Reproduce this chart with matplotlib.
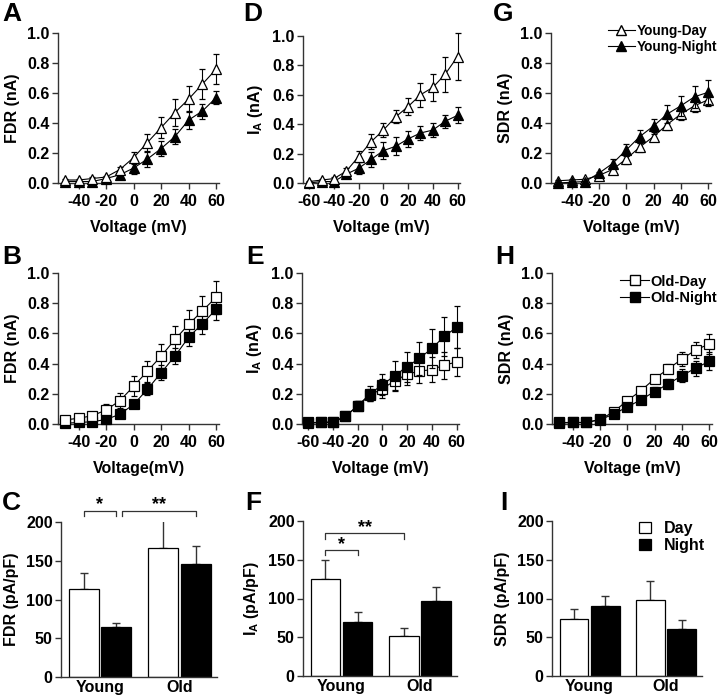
import numpy as np
import matplotlib
matplotlib.use('Agg')
import matplotlib.pyplot as plt
from matplotlib.lines import Line2D
from matplotlib.patches import Patch

plt.rcParams['font.family'] = ['Liberation Sans', 'DejaVu Sans']
plt.rcParams['font.weight'] = 'bold'
plt.rcParams['font.size'] = 10
plt.rcParams['axes.unicode_minus'] = False
plt.rcParams['mathtext.fontset'] = 'custom'
plt.rcParams['mathtext.bf'] = 'Liberation Sans:bold'
plt.rcParams['mathtext.rm'] = 'Liberation Sans:bold'
plt.rcParams['mathtext.default'] = 'bf'

# voltages
v_short = [-50, -40, -30, -20, -10, 0, 10, 20, 30, 40, 50, 60]
v_long = [-60, -50, -40, -30, -20, -10, 0, 10, 20, 30, 40, 50, 60]

# A: FDR young
fdr_yd = [0.02, 0.02, 0.03, 0.04, 0.09, 0.17, 0.27, 0.37, 0.47, 0.56, 0.66, 0.76]
fdr_yd_err = [0.01, 0.01, 0.01, 0.01, 0.02, 0.04, 0.055, 0.07, 0.09, 0.09, 0.10, 0.10]
fdr_yn = [0.01, 0.01, 0.01, 0.03, 0.055, 0.10, 0.16, 0.23, 0.31, 0.42, 0.48, 0.57]
fdr_yn_err = [0.005, 0.005, 0.005, 0.01, 0.02, 0.04, 0.05, 0.05, 0.05, 0.06, 0.05, 0.045]

# D: I_A young
ia_yd = [0.01, 0.02, 0.03, 0.08, 0.18, 0.28, 0.36, 0.45, 0.52, 0.60, 0.65, 0.74, 0.86]
ia_yd_err = [0.005, 0.005, 0.01, 0.02, 0.04, 0.05, 0.05, 0.045, 0.06, 0.08, 0.09, 0.12, 0.16]
ia_yn = [0.0, 0.01, 0.01, 0.06, 0.10, 0.16, 0.22, 0.25, 0.30, 0.34, 0.36, 0.42, 0.46]
ia_yn_err = [0.005, 0.005, 0.005, 0.01, 0.04, 0.05, 0.06, 0.06, 0.055, 0.05, 0.05, 0.045, 0.055]

# G: SDR young
sdr_yd = [0.015, 0.02, 0.025, 0.05, 0.09, 0.16, 0.24, 0.31, 0.39, 0.46, 0.515, 0.555]
sdr_yd_err = [0.005, 0.005, 0.005, 0.01, 0.02, 0.03, 0.03, 0.03, 0.035, 0.04, 0.04, 0.04]
sdr_yn = [0.0, 0.005, 0.01, 0.065, 0.13, 0.22, 0.31, 0.38, 0.46, 0.515, 0.575, 0.605]
sdr_yn_err = [0.005, 0.005, 0.005, 0.01, 0.03, 0.04, 0.045, 0.05, 0.06, 0.065, 0.075, 0.08]

# B: FDR old
fdr_od = [0.027, 0.038, 0.055, 0.093, 0.155, 0.25, 0.35, 0.45, 0.56, 0.66, 0.75, 0.84]
fdr_od_err = [0.01, 0.01, 0.01, 0.04, 0.05, 0.065, 0.07, 0.08, 0.09, 0.095, 0.10, 0.11]
fdr_on = [0.005, 0.01, 0.015, 0.03, 0.065, 0.13, 0.23, 0.34, 0.45, 0.575, 0.665, 0.76]
fdr_on_err = [0.005, 0.005, 0.005, 0.01, 0.01, 0.02, 0.04, 0.05, 0.055, 0.06, 0.07, 0.07]

# E: I_A old
ia_od = [0.005, 0.01, 0.01, 0.05, 0.12, 0.19, 0.235, 0.285, 0.33, 0.35, 0.36, 0.39, 0.41]
ia_od_err = [0.005, 0.005, 0.005, 0.01, 0.03, 0.04, 0.06, 0.06, 0.07, 0.08, 0.085, 0.09, 0.09]
ia_on = [0.01, 0.01, 0.015, 0.05, 0.12, 0.20, 0.26, 0.32, 0.38, 0.435, 0.50, 0.58, 0.64]
ia_on_err = [0.005, 0.005, 0.005, 0.01, 0.03, 0.05, 0.07, 0.10, 0.10, 0.11, 0.13, 0.13, 0.14]

# H: SDR old
sdr_od = [0.01, 0.01, 0.01, 0.03, 0.08, 0.155, 0.22, 0.30, 0.365, 0.43, 0.49, 0.53]
sdr_od_err = [0.005, 0.005, 0.005, 0.005, 0.01, 0.02, 0.02, 0.025, 0.03, 0.045, 0.055, 0.065]
sdr_on = [0.005, 0.01, 0.01, 0.028, 0.065, 0.113, 0.16, 0.215, 0.265, 0.32, 0.37, 0.415]
sdr_on_err = [0.005, 0.005, 0.005, 0.005, 0.01, 0.02, 0.025, 0.03, 0.035, 0.045, 0.05, 0.06]

# bar panels (pA/pF), order: Young, Old
groups = ['Young', 'Old']
fdr_day = [113, 166]
fdr_day_err = [21, 38]
fdr_night = [64, 146]
fdr_night_err = [6, 23]
ia_day = [125, 51]
ia_day_err = [25, 11.5]
ia_night = [70, 96.5]
ia_night_err = [12, 18]
sdr_day = [74, 98]
sdr_day_err = [12, 25]
sdr_night = [90, 61]
sdr_night_err = [13.5, 11]

W, H = 720, 697
fig = plt.figure(figsize=(W / 100, H / 100), dpi=100)

def px_axes(left, top, width, height):
    return fig.add_axes([left / W, 1 - (top + height) / H, width / W, height / H])

spine_col = '#333333'
TICK = 11.5
LAB = 11.5

def style(ax):
    for s in ['top', 'right']:
        ax.spines[s].set_visible(False)
    for s in ['left', 'bottom']:
        ax.spines[s].set_color(spine_col)
        ax.spines[s].set_linewidth(1.0)
    ax.tick_params(direction='out', length=4, width=1, color=spine_col, labelsize=TICK, pad=2)
    ax.tick_params(axis='x', pad=4)
    for lab in ax.get_xticklabels() + ax.get_yticklabels():
        lab.set_fontweight('bold')

def iv_panel(ax, v, day, day_err, night, night_err, marker, ylabel, xlabel, xlim, xticks, day_top):
    ms = 7.5 if marker == '^' else 6.5
    zd, zn = (4, 3) if day_top else (3, 4)
    ax.errorbar(v, day, yerr=day_err, fmt='-', marker=marker, ms=ms, mfc='white', mec='black',
                mew=0.9, color='black', lw=0.8, elinewidth=0.8, capsize=2.5, capthick=0.8,
                clip_on=False, zorder=zd)
    ax.errorbar(v, night, yerr=night_err, fmt='-', marker=marker, ms=ms, mfc='black', mec='black',
                mew=0.9, color='black', lw=0.8, elinewidth=0.8, capsize=2.5, capthick=0.8,
                clip_on=False, zorder=zn)
    ax.set_xlim(*xlim)
    ax.set_ylim(0, 1.0)
    ax.set_xticks(xticks)
    ax.set_yticks([0, 0.2, 0.4, 0.6, 0.8, 1.0])
    ax.set_yticklabels(['0.0', '0.2', '0.4', '0.6', '0.8', '1.0'])
    ax.set_xlabel(xlabel, fontsize=LAB, fontweight='bold', labelpad=8)
    ax.set_ylabel(ylabel, fontsize=LAB, fontweight='bold', labelpad=5)
    style(ax)

def bar_panel(ax, day, day_err, night, night_err, ylabel):
    xd = np.array([0, 2.45])
    xn = xd + 1
    ax.bar(xd, day, width=0.92, color='white', edgecolor='black', linewidth=0.9, zorder=2)
    ax.bar(xn, night, width=0.92, color='black', edgecolor='black', linewidth=0.9, zorder=2)
    ax.errorbar(xd, day, yerr=[np.zeros(2), day_err], fmt='none', ecolor=spine_col,
                elinewidth=1.0, capsize=3, capthick=1.0, zorder=1)
    ax.errorbar(xn, night, yerr=[np.zeros(2), night_err], fmt='none', ecolor=spine_col,
                elinewidth=1.0, capsize=3, capthick=1.0, zorder=1)
    ax.set_xlim(-0.7, 4.1)
    ax.set_ylim(0, 200)
    ax.set_yticks([0, 50, 100, 150, 200])
    ax.set_xticks((xd + xn) / 2)
    ax.set_xticklabels(groups)
    ax.set_ylabel(ylabel, fontsize=LAB, fontweight='bold', labelpad=5)
    style(ax)
    ax.tick_params(axis='x', length=0, pad=2, labelsize=11.5)

def bracket(ax, x1, x2, y, drop, label, ty):
    ax.plot([x1, x1, x2, x2], [y - drop, y, y, y - drop], color=spine_col, lw=0.9, clip_on=False)
    ax.text((x1 + x2) / 2, ty, label, ha='center', va='center', fontsize=13, fontweight='bold')

# row 1
axA = px_axes(58, 33, 161, 150)
iv_panel(axA, v_short, fdr_yd, fdr_yd_err, fdr_yn, fdr_yn_err, '^', 'FDR (nA)', 'Voltage (mV)',
         (-55, 62), [-40, -20, 0, 20, 40, 60], True)
axD = px_axes(303, 36, 157, 147)
iv_panel(axD, v_long, ia_yd, ia_yd_err, ia_yn, ia_yn_err, '^', 'I$_{A}$ (nA)', 'Voltage (mV)',
         (-65, 62), [-60, -40, -20, 0, 20, 40, 60], True)
axG = px_axes(551, 33, 160, 150)
iv_panel(axG, v_short, sdr_yd, sdr_yd_err, sdr_yn, sdr_yn_err, '^', 'SDR (nA)', 'Voltage (mV)',
         (-55, 62), [-40, -20, 0, 20, 40, 60], False)

# row 2
axB = px_axes(58, 273, 161, 151)
iv_panel(axB, v_short, fdr_od, fdr_od_err, fdr_on, fdr_on_err, 's', 'FDR (nA)', 'Voltage(mV)',
         (-55, 62), [-40, -20, 0, 20, 40, 60], True)
axE = px_axes(302, 273, 157, 151)
iv_panel(axE, v_long, ia_od, ia_od_err, ia_on, ia_on_err, 's', 'I$_{A}$ (nA)', 'Voltage (mV)',
         (-65, 62), [-60, -40, -20, 0, 20, 40, 60], False)
axH = px_axes(552, 273, 160, 151)
iv_panel(axH, v_short, sdr_od, sdr_od_err, sdr_on, sdr_on_err, 's', 'SDR (nA)', 'Voltage (mV)',
         (-55, 62), [-40, -20, 0, 20, 40, 60], False)

# row 3
axC = px_axes(61, 522, 156, 155)
bar_panel(axC, fdr_day, fdr_day_err, fdr_night, fdr_night_err, 'FDR (pA/pF)')
bracket(axC, 0, 1, 214, 6, '*', 223)
bracket(axC, 1.17, 3.45, 214, 6, '**', 223)
axF = px_axes(303, 521, 154, 155)
bar_panel(axF, ia_day, ia_day_err, ia_night, ia_night_err, 'I$_{A}$ (pA/pF)')
bracket(axF, 0, 1, 163, 7, '*', 170)
bracket(axF, 0, 2.45, 184, 7, '**', 191)
axI = px_axes(552, 521, 150, 155)
bar_panel(axI, sdr_day, sdr_day_err, sdr_night, sdr_night_err, 'SDR (pA/pF)')

# legends
leg_prop = {'size': 9.8, 'weight': 'bold'}
h_yd = Line2D([], [], color='black', lw=0.8, marker='^', ms=7, mfc='white', mec='black')
h_yn = Line2D([], [], color='black', lw=0.8, marker='^', ms=7, mfc='black', mec='black')
axG.legend([h_yd, h_yn], ['Young-Day', 'Young-Night'], loc='upper left',
           bbox_to_anchor=(0.355, 1.06), frameon=False, borderpad=0, borderaxespad=0,
           handlelength=2.0, handletextpad=0.1, labelspacing=0.15, numpoints=1,
           prop=leg_prop)
h_od = Line2D([], [], color='black', lw=0.8, marker='s', ms=6.5, mfc='white', mec='black')
h_on = Line2D([], [], color='black', lw=0.8, marker='s', ms=6.5, mfc='black', mec='black')
axH.legend([h_od, h_on], ['Old-Day', 'Old-Night'], loc='upper left',
           bbox_to_anchor=(0.425, 0.99), frameon=False, borderpad=0, borderaxespad=0,
           handlelength=2.0, handletextpad=0.1, labelspacing=0.15, numpoints=1,
           prop={'size': 10.5, 'weight': 'bold'})
p_d = Patch(facecolor='white', edgecolor='black', linewidth=0.9)
p_n = Patch(facecolor='black', edgecolor='black', linewidth=0.9)
axI.legend([p_d, p_n], ['Day', 'Night'], loc='upper left', bbox_to_anchor=(0.58, 1.0),
           frameon=False, borderpad=0, borderaxespad=0, handlelength=0.75, handleheight=0.65,
           handletextpad=0.8, labelspacing=0.15, prop={'size': 11.5, 'weight': 'bold'})

# panel letters
letters = [('A', 2, 2), ('D', 243, 2), ('G', 493, 2),
           ('B', 2, 245), ('E', 246, 245), ('H', 495, 245),
           ('C', 2, 491), ('F', 245, 491), ('I', 500, 491)]
for lt, x, y in letters:
    fig.text(x / W, 1 - y / H, lt, fontsize=19, fontweight='bold', ha='left', va='top')

fig.savefig('out.png', dpi=100)
